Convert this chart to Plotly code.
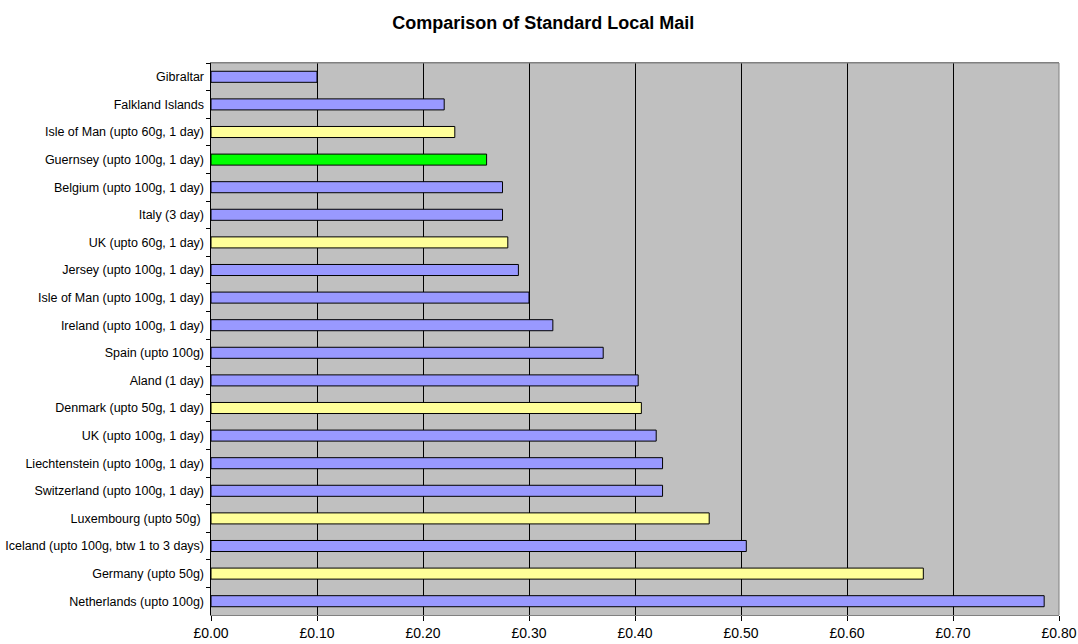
import plotly.graph_objects as go

categories = [
    "Gibraltar",
    "Falkland Islands",
    "Isle of Man (upto 60g, 1 day)",
    "Guernsey (upto 100g, 1 day)",
    "Belgium (upto 100g, 1 day)",
    "Italy (3 day)",
    "UK (upto 60g, 1 day)",
    "Jersey (upto 100g, 1 day)",
    "Isle of Man (upto 100g, 1 day)",
    "Ireland (upto 100g, 1 day)",
    "Spain (upto 100g)",
    "Aland (1 day)",
    "Denmark (upto 50g, 1 day)",
    "UK (upto 100g, 1 day)",
    "Liechtenstein (upto 100g, 1 day)",
    "Switzerland (upto 100g, 1 day)",
    "Luxembourg (upto 50g) ",
    "Iceland (upto 100g, btw 1 to 3 days)",
    "Germany (upto 50g)",
    "Netherlands (upto 100g)",
]
prices = [0.10, 0.22, 0.23, 0.26, 0.275, 0.275, 0.28, 0.29, 0.30, 0.3225,
          0.37, 0.403, 0.406, 0.42, 0.426, 0.426, 0.47, 0.505, 0.672, 0.786]
groups = ["other", "other", "crown", "guernsey", "other", "other", "crown", "other", "other", "other",
          "other", "other", "crown", "other", "other", "other", "crown", "other", "crown", "other"]
group_colors = {"other": "#9999FF", "crown": "#FFFF99", "guernsey": "#00FF00"}

fig = go.Figure(go.Bar(
    x=prices,
    y=categories,
    orientation="h",
    marker=dict(color=[group_colors[g] for g in groups], line=dict(color="black", width=1)),
    hoverinfo="x+y",
))

fig.update_layout(
    width=1078, height=644,
    margin=dict(l=211, r=19, t=63, b=29),
    paper_bgcolor="white",
    plot_bgcolor="#C0C0C0",
    bargap=0.6,
    showlegend=False,
    font=dict(family="Liberation Sans, Arial, sans-serif", color="black"),
    title=dict(text="<b>Comparison of Standard Local Mail</b>", x=0.504, xanchor="center",
               y=1 - 23 / 644, yanchor="middle", font=dict(size=18)),
)
fig.update_xaxes(
    range=[0, 0.8], dtick=0.1, tick0=0, tickprefix="£", tickformat=".2f",
    showgrid=True, gridcolor="black", gridwidth=1,
    zeroline=False, showline=True, linecolor="#808080", mirror=True,
    ticks="outside", ticklen=5, tickcolor="black",
    tickfont=dict(size=14), automargin=False,
)
fig.update_yaxes(
    autorange="reversed", type="category", tickson="boundaries",
    ticks="outside", ticklen=4, tickcolor="black",
    showline=True, linecolor="black", linewidth=1, mirror=False,
    showgrid=False, tickfont=dict(size=12.5), ticksuffix=" ", automargin=False,
)
fig.add_shape(type="line", xref="paper", yref="paper", x0=0, x1=1, y0=1, y1=1,
              line=dict(color="#808080", width=1))
fig.add_shape(type="line", xref="paper", yref="paper", x0=1, x1=1, y0=0, y1=1,
              line=dict(color="#808080", width=1))

fig.write_html("out.html")
